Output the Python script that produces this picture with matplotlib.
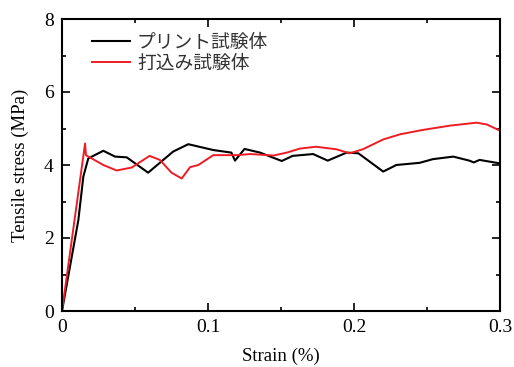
import matplotlib
matplotlib.use("Agg")
import matplotlib.pyplot as plt
from matplotlib.ticker import MultipleLocator

# stress-strain curves
strain_print = [0.0, 0.0112, 0.0146, 0.018, 0.0283, 0.0363, 0.0443, 0.059, 0.0762,
                0.0865, 0.1036, 0.116, 0.1185, 0.125, 0.1356, 0.1505, 0.158, 0.172,
                0.182, 0.195, 0.203, 0.220, 0.229, 0.245, 0.254, 0.268, 0.279,
                0.282, 0.286, 0.299]
stress_print = [0.0, 2.49, 3.68, 4.18, 4.39, 4.23, 4.21, 3.79, 4.37,
                4.57, 4.41, 4.34, 4.12, 4.44, 4.34, 4.11, 4.25, 4.30,
                4.12, 4.34, 4.32, 3.82, 4.0, 4.06, 4.16, 4.23, 4.12,
                4.07, 4.14, 4.05]

strain_cast = [0.0, 0.0158, 0.0164, 0.0283, 0.0374, 0.0477, 0.060, 0.067, 0.075,
               0.082, 0.0877, 0.0934, 0.1036, 0.12, 0.129, 0.145, 0.154, 0.163,
               0.174, 0.188, 0.197, 0.206, 0.220, 0.2315, 0.247, 0.266, 0.284,
               0.291, 0.299]
stress_cast = [0.0, 4.59, 4.27, 4.0, 3.85, 3.93, 4.25, 4.14, 3.79,
               3.63, 3.94, 4.0, 4.27, 4.27, 4.30, 4.26, 4.34, 4.45,
               4.50, 4.43, 4.32, 4.43, 4.70, 4.84, 4.96, 5.08, 5.16,
               5.11, 4.96]

labels = ["プリント試験体", "打込み試験体"]

plt.rcParams["font.family"] = ["Liberation Serif", "Noto Sans CJK JP"]
plt.rcParams["font.size"] = 13

fig = plt.figure(figsize=(5.14, 3.67), dpi=100)
ax = fig.add_axes([62 / 514, 1 - 311 / 367, 438 / 514, 292 / 367])

ax.plot(strain_print, stress_print, color="black", lw=1.5, label=labels[0])
ax.plot(strain_cast, stress_cast, color="#ee1c25", lw=1.4, label=labels[1])

ax.set_xlim(0, 0.3)
ax.set_ylim(0, 8)
ax.xaxis.set_minor_locator(MultipleLocator(0.05))
ax.yaxis.set_minor_locator(MultipleLocator(1))
ax.set_xticks([0, 0.1, 0.2, 0.3])
ax.set_xticklabels(["0", "0.1", "0.2", "0.3"])
ax.set_yticks([0, 2, 4, 6, 8])
ax.set_yticklabels(["0", "2", "4", "6", "8"])
ax.tick_params(which="both", direction="in", top=True, right=True, width=1.2)
ax.tick_params(which="major", length=6, labelsize=14, pad=6)
ax.tick_params(which="minor", length=3)
for sp in ax.spines.values():
    sp.set_linewidth(1.5)

ax.set_xlabel("Strain (%)", fontsize=13.5, labelpad=8)
ax.set_ylabel("Tensile stress (MPa)", fontsize=13.5, labelpad=11)

leg = ax.legend(loc="upper left", bbox_to_anchor=(0.03, 1.015), frameon=False,
                handlelength=2.0, handletextpad=0.4, labelspacing=0.02,
                prop={"family": ["Noto Sans CJK JP"], "size": 13.5})
for t in leg.get_texts():
    t.set_color("#333333")

fig.savefig("out.png", dpi=100)
